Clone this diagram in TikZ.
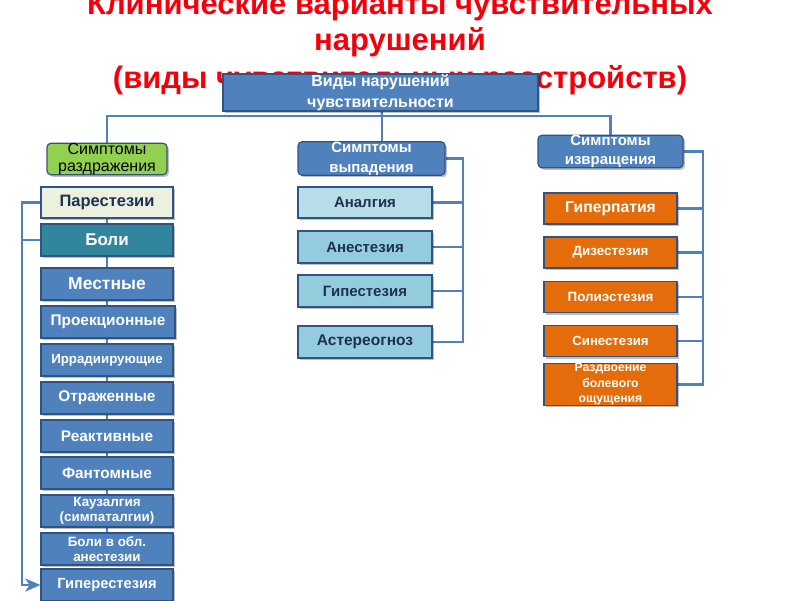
\documentclass[tikz,border=0pt]{standalone}
\usepackage{fontspec}
\setmainfont{Liberation Sans}
\usetikzlibrary{arrows.meta,shadows,backgrounds}
\definecolor{titlered}{HTML}{F5000A}
\definecolor{bblue}{HTML}{4F81BD}
\definecolor{bborder}{HTML}{2F5483}
\definecolor{lnblue}{HTML}{4F81BD}
\definecolor{bgreen}{HTML}{92D050}
\definecolor{pale}{HTML}{EBF1DE}
\definecolor{teal}{HTML}{31859C}
\definecolor{lblue}{HTML}{B7DEE8}
\definecolor{mblue}{HTML}{93CDDD}
\definecolor{orng}{HTML}{E46C0A}
\definecolor{darktxt}{HTML}{1F3050}
\tikzset{
  base/.style={draw=bborder, line width=1.2pt, inner sep=0pt, align=center,
    drop shadow={shadow xshift=2pt, shadow yshift=-2pt, opacity=0.25, fill=black}},
  hdr/.style={base, rounded corners=4pt, minimum height=31pt, font=\fontsize{15}{20}\selectfont\bfseries},
  bluebox/.style={base, fill=bblue, text=white, minimum width=132pt, minimum height=32pt},
  cyanbox/.style={base, fill=mblue, text=darktxt, minimum width=134pt, minimum height=32pt, font=\fontsize{15}{17}\selectfont\bfseries},
  orbox/.style={base, fill=orng, text=white, minimum width=133pt, minimum height=31pt},
  conn/.style={draw=lnblue, line width=2.4pt},
  ttl/.style={text=titlered, font=\fontsize{31}{36}\selectfont\bfseries, anchor=base}
}
\begin{document}
\begin{tikzpicture}[x=1pt,y=-1pt]
\useasboundingbox (0,0) rectangle (800,600);
% title
\node[ttl] (t1) at (400,14) {Клинические варианты чувствительных};
\node[ttl] (t2) at (400,50) {нарушений};
\node[ttl] (t3) at (400,88) {(виды чувствительных расстройств)};
% top
\node[base, fill=bblue, text=white, minimum width=315pt, minimum height=37pt,
  font=\fontsize{16}{21}\selectfont\bfseries] (top) at (380.5,92.5) {Виды нарушений\\чувствительности};
\coordinate (j) at (382,116);
% headers
\node[hdr, fill=bgreen, text=black, minimum width=120pt, font=\fontsize{16}{17}\selectfont] (razd) at (107,159) {Симптомы\\раздражения};
\node[hdr, fill=bblue, text=white, minimum width=147pt] (vyp) at (371.5,158.5) {Симптомы\\выпадения};
\node[hdr, fill=bblue, text=white, minimum width=145pt, font=\fontsize{15}{19}\selectfont\bfseries] (izv) at (610.5,151.5) {Симптомы\\извращения};
% left column
\node[base, fill=pale, text=darktxt, minimum width=132pt, minimum height=31pt, font=\fontsize{16.5}{18}\selectfont\bfseries] (par) at (107,202.5) {Парестезии};
\node[base, fill=teal, text=white, minimum width=132pt, minimum height=32pt, font=\fontsize{17}{19}\selectfont\bfseries] (boli) at (107,240) {Боли};
\node[bluebox, font=\fontsize{17.5}{19}\selectfont\bfseries] (mest) at (107,284) {Местные};
\node[bluebox, minimum width=134pt, line width=2pt, font=\fontsize{15.4}{17}\selectfont\bfseries] (proek) at (108,322) {Проекционные};
\node[bluebox, font=\fontsize{13.3}{15}\selectfont\bfseries] (irr) at (107,360) {Иррадиирующие};
\node[bluebox, font=\fontsize{15.4}{17}\selectfont\bfseries] (otr) at (107,398) {Отраженные};
\node[bluebox, font=\fontsize{15.4}{17}\selectfont\bfseries] (reak) at (107,436) {Реактивные};
\node[bluebox, font=\fontsize{15.4}{17}\selectfont\bfseries] (fant) at (107,473) {Фантомные};
\node[bluebox, font=\fontsize{13.4}{15}\selectfont\bfseries] (kauz) at (107,511) {Каузалгия\\(симпаталгии)};
\node[bluebox, font=\fontsize{13.4}{15}\selectfont\bfseries] (anob) at (107,549) {Боли в обл.\\анестезии};
\node[bluebox, font=\fontsize{14.7}{16}\selectfont\bfseries] (hyp) at (107,585) {Гиперестезия};
% center column
\node[cyanbox, fill=lblue, minimum height=31pt] (anal) at (365,202.5) {Аналгия};
\node[cyanbox] (anes) at (365,247) {Анестезия};
\node[cyanbox] (gipe) at (365,291) {Гипестезия};
\node[cyanbox, font=\fontsize{15.5}{17}\selectfont\bfseries] (aster) at (365,342) {Астереогноз};
% right column
\node[orbox, font=\fontsize{15.7}{17}\selectfont\bfseries] (gperp) at (610.5,208.5) {Гиперпатия};
\node[orbox, font=\fontsize{13.4}{15}\selectfont\bfseries] (diz) at (610.5,252.5) {Дизестезия};
\node[orbox, font=\fontsize{13.4}{15}\selectfont\bfseries] (poli) at (610.5,297) {Полиэстезия};
\node[orbox, font=\fontsize{13.2}{15}\selectfont\bfseries] (sin) at (610.5,341) {Синестезия};
\node[orbox, font=\fontsize{12.2}{15.5}\selectfont\bfseries] (rzdv) at (610.5,384.5) {Раздвоение\\болевого\\ощущения};
% connectors
\begin{scope}[on background layer]
\draw[conn] (top) -- (j);
\draw[conn] (razd.north) |- (j) -| (izv.north);
\draw[conn] (j) -- (j |- vyp.north);
\draw[conn, line width=2pt] (par.south) -- (anob.south);
\coordinate (lx) at (22,0);
\draw[conn, -{Stealth[length=15pt,width=13pt,inset=4pt]}] (par.west) -- (par.west -| lx) -- (hyp.west -| lx) -- (hyp.west);
\draw[conn] (boli.west -| lx) -- (boli.west);
\coordinate (cx) at (463,0);
\draw[conn] (vyp.east) -- (vyp.east -| cx) -- (aster.east -| cx) -- (aster.east);
\draw[conn] (anal.east) -- (anal.east -| cx);
\draw[conn] (anes.east) -- (anes.east -| cx);
\draw[conn] (gipe.east) -- (gipe.east -| cx);
\coordinate (rx) at (703,0);
\draw[conn] (izv.east) -- (izv.east -| rx) -- (rzdv.east -| rx) -- (rzdv.east);
\draw[conn] (gperp.east) -- (gperp.east -| rx);
\draw[conn] (diz.east) -- (diz.east -| rx);
\draw[conn] (poli.east) -- (poli.east -| rx);
\draw[conn] (sin.east) -- (sin.east -| rx);
\end{scope}
\end{tikzpicture}
\end{document}
